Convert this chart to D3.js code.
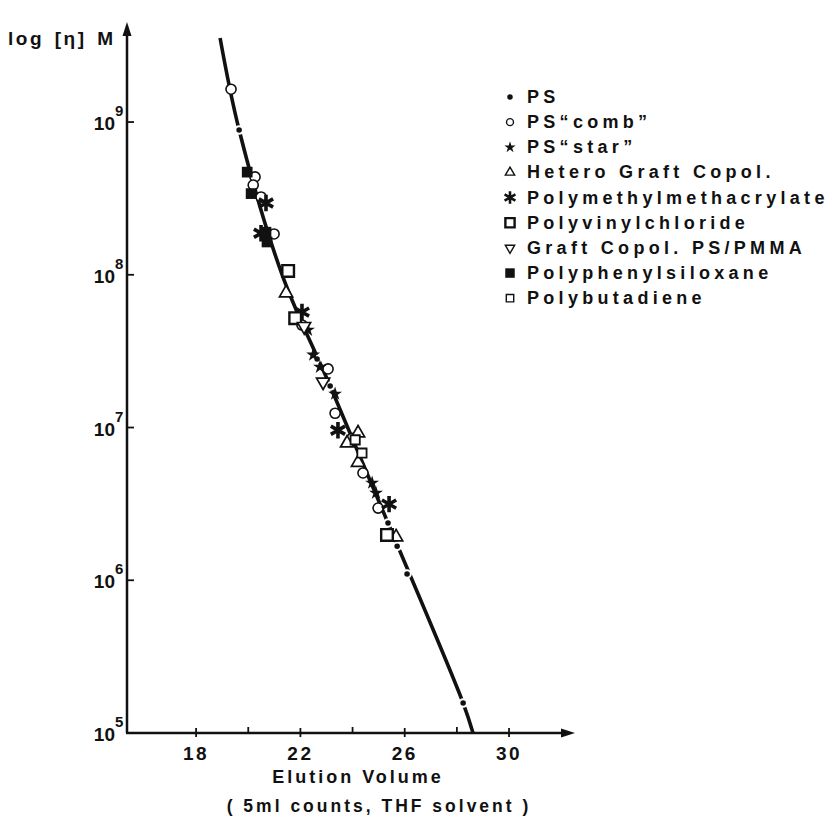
<!DOCTYPE html>
<html>
<head>
<meta charset="utf-8">
<script src="https://cdn.jsdelivr.net/npm/d3@7"></script>
<style>
  body { margin: 0; background: #fff; }
  text { font-family: "Liberation Sans", Arial, sans-serif; font-weight: bold; fill: #111; }
</style>
</head>
<body>
<div id="container"></div>
<script>
// window size
let cwW = 832;
let cwH = 823;

// axis ticks
const volumeTicks = [18, 22, 26, 30];
const volumeMinor = [20, 24, 28];
const massExponents = [5, 6, 7, 8, 9];

// calibration line (volume, [eta]M)
const calibLine = [[18.92, 3.55e9], [19.65, 8.87e8], [21.30, 1.0e8], [23.14, 1.87e7],
                   [25.36, 2.37e6], [28.24, 1.57e5], [28.62, 1.0e5]];

// data series (elution volume, [eta]M)
const psLinear = [[19.65, 8.87e8], [22.64, 2.81e7], [23.14, 1.87e7], [25.36, 2.37e6],
                  [25.71, 1.67e6], [26.09, 1.10e6], [28.24, 1.57e5]];
const psComb = [[19.34, 1.64e9], [20.26, 4.37e8], [20.19, 3.87e8], [20.49, 3.23e8],
                [20.99, 1.85e8], [22.06, 4.69e7], [23.06, 2.42e7], [23.33, 1.24e7],
                [23.98, 8.5e6], [24.40, 5.04e6], [24.98, 2.97e6]];
const psStar = [[22.29, 4.35e7], [22.49, 2.99e7], [22.75, 2.49e7], [23.33, 1.66e7],
                [24.75, 4.34e6], [24.90, 3.73e6]];
const heteroGraft = [[21.45, 7.6e7], [24.21, 9.2e6], [23.79, 7.9e6], [24.21, 5.9e6], [25.67, 1.92e6]];
const pmma = [[20.68, 2.95e8], [20.49, 1.87e8], [22.06, 5.7e7], [23.44, 9.6e6], [25.40, 3.15e6]];
const pvc = [[21.53, 1.06e8], [21.80, 5.2e7], [25.32, 1.98e6]];
const graftPsPmma = [[22.87, 1.99e7], [22.14, 4.6e7]];
const phenylSiloxane = [[19.96, 4.7e8], [20.11, 3.4e8], [20.68, 1.9e8], [20.72, 1.64e8]];
const butadiene = [[24.10, 8.3e6], [24.36, 6.8e6]];

const legendLabels = ['PS', 'PS\u201Ccomb\u201D', 'PS\u201Cstar\u201D', 'Hetero Graft Copol.',
  'Polymethylmethacrylate', 'Polyvinylchloride', 'Graft Copol. PS/PMMA',
  'Polyphenylsiloxane', 'Polybutadiene'];

// marker styles per series
const markerStyles = [
  {type: d3.symbolCircle, size: 45, fill: '#111', stroke: '#fff', sw: 2},
  {type: d3.symbolCircle, size: 80, fill: '#fff', stroke: '#111', sw: 1.6},
  {type: d3.symbolStar, size: 60, fill: '#111', stroke: 'none', sw: 0},
  {type: d3.symbolTriangle, size: 75, fill: '#fff', stroke: '#111', sw: 1.7},
  {type: d3.symbolAsterisk, size: 190, fill: 'none', stroke: '#111', sw: 3.6},
  {type: d3.symbolSquare, size: 135, fill: '#fff', stroke: '#111', sw: 2.4},
  {type: d3.symbolTriangle, size: 75, fill: '#fff', stroke: '#111', sw: 1.7, rot: 180},
  {type: d3.symbolSquare, size: 115, fill: '#111', stroke: 'none', sw: 0},
  {type: d3.symbolSquare, size: 85, fill: '#fff', stroke: '#111', sw: 1.8}
];
const legendSizes = [24, 38, 40, 38, 110, 85, 38, 90, 55];

let allSeries = [psLinear, psComb, psStar, heteroGraft, pmma, pvc, graftPsPmma, phenylSiloxane, butadiene];

let svgArea = d3.select("#container").append("svg")
  .attr("width", cwW).attr("height", cwH);

// scales
let x = d3.scaleLinear().domain([15.35, 32.53]).range([127, 575]);
let y = d3.scaleLog().domain([1e5, Math.pow(10, 9.655)]).range([733, 22]);

/**************************
* Axes
**************************/
// y axis line + arrow
svgArea.append("line")
  .attr("x1", x(15.35)).attr("x2", x(15.35))
  .attr("y1", y(1e5)).attr("y2", y.range()[1] + 8)
  .attr("stroke", "#111").attr("stroke-width", 2.5);
svgArea.append("path")
  .attr("d", "M" + x(15.35) + "," + y.range()[1] + "l-4.5,14 l9,0 z")
  .attr("fill", "#111");

// x axis line + arrow
svgArea.append("line")
  .attr("x1", x(15.35) - 1).attr("x2", x.range()[1] - 8)
  .attr("y1", y(1e5)).attr("y2", y(1e5))
  .attr("stroke", "#111").attr("stroke-width", 2.5);
svgArea.append("path")
  .attr("d", "M" + x.range()[1] + "," + y(1e5) + "l-14,-4.5 l0,9 z")
  .attr("fill", "#111");

// x ticks
svgArea.append("g").selectAll("line")
  .data(volumeTicks).enter().append("line")
  .attr("x1", d => x(d)).attr("x2", d => x(d))
  .attr("y1", y(1e5) - 5).attr("y2", y(1e5) + 4)
  .attr("stroke", "#111").attr("stroke-width", 1.8);
svgArea.append("g").selectAll("line")
  .data(volumeMinor).enter().append("line")
  .attr("x1", d => x(d)).attr("x2", d => x(d))
  .attr("y1", y(1e5) - 6).attr("y2", y(1e5))
  .attr("stroke", "#111").attr("stroke-width", 1.8);
svgArea.append("g").selectAll("text")
  .data(volumeTicks).enter().append("text")
  .attr("x", d => x(d)).attr("y", y(1e5) + 27)
  .attr("text-anchor", "middle")
  .attr("font-size", 19).attr("letter-spacing", 2.5)
  .text(d => d);

// y ticks
let yTicks = svgArea.append("g").selectAll("g")
  .data(massExponents).enter().append("g")
  .attr("transform", d => "translate(0," + y(Math.pow(10, d)) + ")");
yTicks.filter(d => d > 5).append("line")
  .attr("x1", x(15.35)).attr("x2", x(15.35) + 7)
  .attr("stroke", "#111").attr("stroke-width", 1.8);
yTicks.append("text")
  .attr("x", 115).attr("y", 8)
  .attr("text-anchor", "end").attr("font-size", 19)
  .text("10");
yTicks.append("text")
  .attr("x", 115).attr("y", -6)
  .attr("font-size", 15)
  .text(d => d);

// axis titles
svgArea.append("text")
  .attr("x", 8).attr("y", 45)
  .attr("font-size", 19).attr("letter-spacing", 2.5).attr("word-spacing", 3)
  .text("log [\u03B7] M");
svgArea.append("text")
  .attr("x", 358).attr("y", 783)
  .attr("text-anchor", "middle")
  .attr("font-size", 18).attr("letter-spacing", 3)
  .text("Elution Volume");
svgArea.append("text")
  .attr("x", 379).attr("y", 812)
  .attr("text-anchor", "middle")
  .attr("font-size", 17.5).attr("letter-spacing", 3)
  .text("( 5ml counts, THF solvent )");

/**************************
* Calibration line
**************************/
svgArea.append("path")
  .datum(calibLine)
  .attr("d", d3.line().x(d => x(d[0])).y(d => y(d[1])).curve(d3.curveCatmullRom))
  .attr("fill", "none")
  .attr("stroke", "#111")
  .attr("stroke-width", 3.6);

/**************************
* Data points
**************************/
allSeries.forEach(function(series, i){
  let st = markerStyles[i];
  svgArea.append("g")
    .attr("id", "series" + i)
    .selectAll("path")
    .data(series).enter().append("path")
    .attr("d", d3.symbol().type(st.type).size(st.size))
    .attr("transform", d => "translate(" + x(d[0]) + "," + y(d[1]) + ")" + (st.rot ? " rotate(" + st.rot + ")" : ""))
    .attr("fill", st.fill)
    .attr("stroke", st.stroke)
    .attr("stroke-width", st.sw);
});

/**************************
* Legend
**************************/
let legend = svgArea.append("g").selectAll("g")
  .data(legendLabels).enter().append("g")
  .attr("transform", (d, i) => "translate(510," + (97 + i * 25.15) + ")");
legend.append("path")
  .attr("d", (d, i) => d3.symbol().type(markerStyles[i].type).size(legendSizes[i])())
  .attr("transform", (d, i) => markerStyles[i].rot ? "rotate(180)" : null)
  .attr("fill", (d, i) => i === 0 ? "#111" : markerStyles[i].fill)
  .attr("stroke", (d, i) => i === 0 ? "none" : markerStyles[i].stroke)
  .attr("stroke-width", (d, i) => i === 4 ? 2.6 : (i === 5 ? 2.4 : 1.4));
legend.append("text")
  .attr("x", 17).attr("y", 6)
  .attr("font-size", 18).attr("letter-spacing", 4.3)
  .text(d => d);
</script>
</body>
</html>
